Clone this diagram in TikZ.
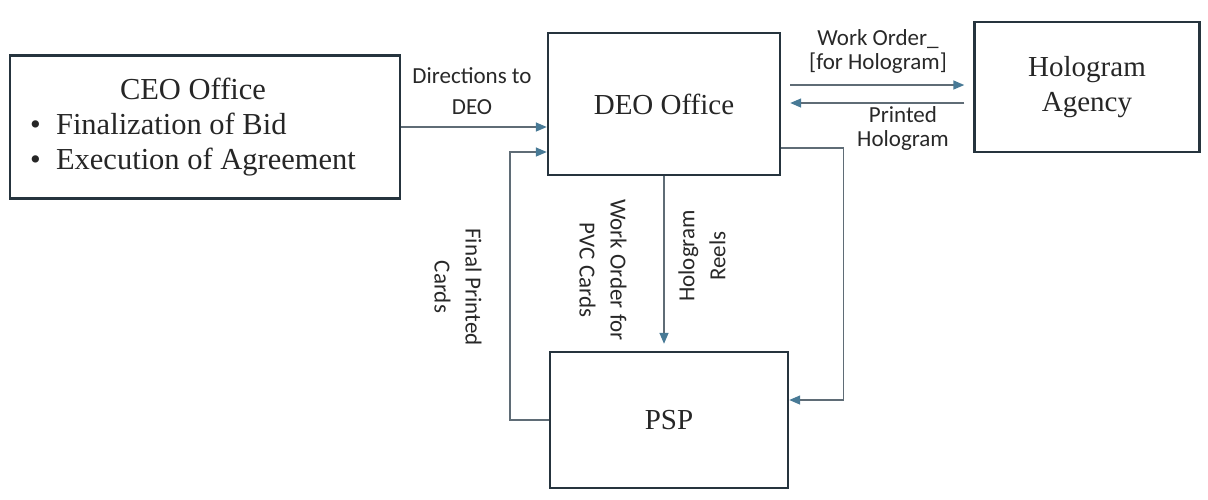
\documentclass[tikz,border=0pt]{standalone}
\usepackage{fontspec}
\setmainfont{Liberation Serif}
\newfontfamily\flowfont{Carlito}
\usetikzlibrary{arrows.meta}

\definecolor{boxedge}{RGB}{38, 52, 62}
\definecolor{flowline}{RGB}{95, 108, 118}
\definecolor{flowtip}{RGB}{72, 122, 150}
\definecolor{flowtext}{RGB}{40, 40, 40}

\begin{document}
\begin{tikzpicture}[
  x=1pt,
  y=-1pt,
  office/.style={draw=boxedge, line width=2.4pt, inner sep=0pt, text=black!85, font=\fontsize{29}{35}\selectfont},
  flow/.style={draw=flowline, line width=1.4pt, -{Triangle[length=11pt, width=9pt, color=flowtip]}},
  flowlabel/.style={font=\flowfont\fontsize{23}{31}\selectfont, text=flowtext, align=center, inner sep=0pt}
]
  \useasboundingbox (0,0) rectangle (1208,499);

  % Offices and agencies
  \node[office, minimum width=390pt, minimum height=143pt, font=\fontsize{30.5}{35}\selectfont] (ceo) at (205,127)
    {\begin{tabular}{@{}l@{}}\multicolumn{1}{@{}c@{}}{CEO Office}\\ \textbullet\enspace Finalization of Bid\\ \textbullet\enspace Execution of Agreement\end{tabular}\hspace*{24pt}};
  \node[office, minimum width=232pt, minimum height=142pt] (deo) at (664,104) {DEO Office};
  \node[office, minimum width=225pt, minimum height=130pt, align=center] (holo) at (1087,87) {Hologram\\Agency};
  \node[office, minimum width=238pt, minimum height=136pt] (psp) at (669,420) {PSP};

  % Flows
  \draw[flow] (ceo.east) -- (ceo.east -| deo.west);
  \draw[flow] (psp.west) -- ++(-39,0) |- ([yshift=-48pt]deo.west);
  \draw[flow, shorten >=7pt] (deo.south) -- (deo.south |- psp.north);
  \draw[flow] ([yshift=-44pt]deo.east) -- ++(62,0) |- ([yshift=20pt]psp.east);
  \draw[flow, shorten <=9pt, shorten >=9pt] ([yshift=19pt]deo.east) -- ([yshift=19pt]deo.east -| holo.west);
  \draw[flow, shorten <=9pt, shorten >=9pt] ([yshift=-16pt]holo.west) -- ([yshift=-16pt]holo.west -| deo.east);

  % Flow labels
  \node[flowlabel] (dirlabel) at (472,91) {Directions to\\DEO};
  \node[flowlabel] (holoorder) at (878,51) {Work Order\_\\[-7pt]{[}for Hologram{]}};
  \node[flowlabel] (holoback) at (903,128) {Printed\\[-7pt]Hologram};
  \node[flowlabel, rotate=-90] (pvcorder) at (603,270) {Work Order for\\PVC Cards};
  \node[flowlabel, rotate=90] (reels) at (702,256) {Hologram\\Reels};
  \node[flowlabel, rotate=-90] (cards) at (458,287) {Final Printed\\Cards};

\end{tikzpicture}
\end{document}
